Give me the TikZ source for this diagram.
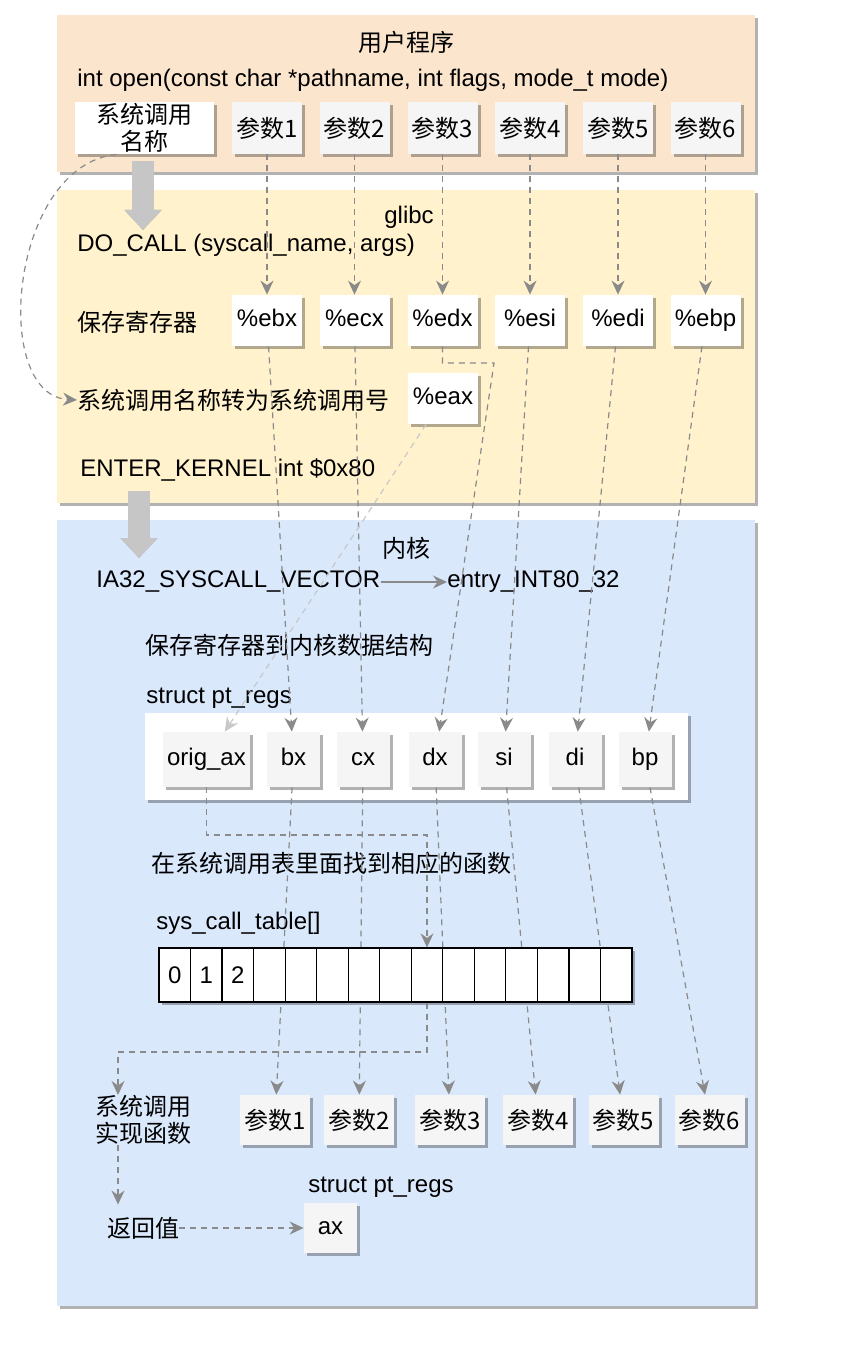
\documentclass[tikz,border=0pt]{standalone}
\usepackage{fontspec}
\setmainfont{Liberation Sans}
\newfontfamily\cjk{Noto Sans CJK SC}
\usetikzlibrary{arrows.meta,shadows,calc}

\definecolor{userbg}{HTML}{FCE5CD}
\definecolor{glibcbg}{HTML}{FFF2CC}
\definecolor{kernbg}{HTML}{DAE8FC}
\definecolor{boxgray}{HTML}{F5F5F5}
\definecolor{linegray}{HTML}{8A8A8A}
\definecolor{lightline}{HTML}{C8C8C8}
\definecolor{arrowgray}{HTML}{C6C6C6}

\tikzset{
  shade3/.style={drop shadow={shadow xshift=1.5pt, shadow yshift=-1.5pt, fill=black, opacity=0.3}},
  txt/.style={inner sep=0pt, anchor=west},
  namebox/.style={fill=white, minimum width=69.5pt, minimum height=26pt, inner sep=0pt, align=center, font=\cjk, shade3},
  parbox/.style={fill=boxgray, minimum width=35pt, minimum height=26pt, inner sep=0pt, font=\cjk, shade3},
  regbox/.style={fill=white, minimum width=35pt, minimum height=25.5pt, inner sep=0pt, text height=8.6pt, text depth=2.6pt, shade3},
  ptbox/.style={fill=boxgray, minimum width=26.5pt, minimum height=27.5pt, inner sep=0pt, text height=8.6pt, text depth=2.6pt, shade3},
  cell/.style={draw, fill=white, line width=0.6pt, minimum width=15.77pt, minimum height=27pt, inner sep=0pt},
  dashlink/.style={draw=linegray, line width=0.6pt, dash pattern=on 3pt off 2.5pt, -{Stealth[length=7pt, width=6.5pt]}},
  solidlink/.style={draw=linegray, line width=0.6pt, -{Stealth[length=7pt, width=6.5pt]}},
  bigarrow/.style={draw=arrowgray, line width=11pt, -{Triangle[width=18pt, length=10pt]}},
  bigshadow/.style={draw=black!38, line width=11pt, -{Triangle[width=18pt, length=10pt]}, xshift=1pt, yshift=-1pt}
}

\begin{document}
\fontsize{12pt}{13.5pt}\selectfont
\begin{tikzpicture}[x=0.5pt, y=-0.5pt]
    \useasboundingbox (0,0) rectangle (856,1352);

    % Panels
    \fill[userbg, shade3] (57,15) rectangle (755,172);
    \fill[glibcbg, shade3] (57,190) rectangle (755,503);
    \fill[kernbg, shade3] (57,520) rectangle (755,1306);

    % User program
    \node (user) at (406,42) {\cjk 用户程序};
    \node[txt] (proto) at (77,80) {int open(const char *pathname, int flags, mode\_t mode)};
    \node[namebox] (sysname) at (144.5,128) {系统调用\\名称};
    \node[parbox] (p1) at (267,128) {参数1};
    \node[parbox] (p2) at (354.5,128) {参数2};
    \node[parbox] (p3) at (442.5,128) {参数3};
    \node[parbox] (p4) at (530,128) {参数4};
    \node[parbox] (p5) at (618,128) {参数5};
    \node[parbox] (p6) at (705.5,128) {参数6};

    % glibc
    \node (glibc) at (409,217) {glibc};
    \node[txt] (docall) at (77,245) {DO\_CALL (syscall\_name, args)};
    \node[txt] (saveregs) at (77,322) {\cjk 保存寄存器};
    \node[regbox] (ebx) at (267,320.5) {\%ebx};
    \node[regbox] (ecx) at (354.5,320.5) {\%ecx};
    \node[regbox] (edx) at (442.5,320.5) {\%edx};
    \node[regbox] (esi) at (530,320.5) {\%esi};
    \node[regbox] (edi) at (618,320.5) {\%edi};
    \node[regbox] (ebp) at (705.5,320.5) {\%ebp};
    \node[txt] (conv) at (77,400) {\cjk 系统调用名称转为系统调用号};
    \node[regbox] (eax) at (443,398.5) {\%eax};
    \node[txt] (enter) at (80,470) {ENTER\_KERNEL int \$0x80};

    % Kernel
    \node (kernel) at (406,548) {\cjk 内核};
    \node[txt] (ia32) at (96,582) {IA32\_SYSCALL\_VECTOR};
    \node[txt] (entry) at (447,582) {entry\_INT80\_32};
    \node[txt] (savek) at (145,645) {\cjk 保存寄存器到内核数据结构};
    \node[txt] (ptname) at (146,698) {struct pt\_regs};
    \fill[white, shade3] (145,713) rectangle (688,800);
    \node[ptbox, minimum width=43.5pt] (ptax) at (206.5,759.5) {orig\_ax};
    \node[ptbox] (ptbx) at (293.5,759.5) {bx};
    \node[ptbox] (ptcx) at (363,759.5) {cx};
    \node[ptbox] (ptdx) at (435,759.5) {dx};
    \node[ptbox] (ptsi) at (504,759.5) {si};
    \node[ptbox] (ptdi) at (575,759.5) {di};
    \node[ptbox] (ptbp) at (645,759.5) {bp};
    \node[txt] (lookup) at (151,863) {\cjk 在系统调用表里面找到相应的函数};
    \node[txt] (tabname) at (156,923) {sys\_call\_table[]};
    \node[align=center, font=\cjk, inner sep=0pt] (impl) at (143,1120) {系统调用\\实现函数};
    \node[parbox, minimum height=25pt] (q1) at (275,1120) {参数1};
    \node[parbox, minimum height=25pt] (q2) at (359,1120) {参数2};
    \node[parbox, minimum height=25pt] (q3) at (450,1120) {参数3};
    \node[parbox, minimum height=25pt] (q4) at (538,1120) {参数4};
    \node[parbox, minimum height=25pt] (q5) at (623.5,1120) {参数5};
    \node[parbox, minimum height=25pt] (q6) at (709.5,1120) {参数6};
    \node (retname) at (381,1187) {struct pt\_regs};
    \node[font=\cjk, inner sep=0pt] (ret) at (143,1228) {返回值};
    \node[ptbox, minimum height=25pt] (ptret) at (330.5,1228) {ax};

    % Big arrows between layers
    \coordinate (callfrom) at (143,161);
    \coordinate (callto) at (143,230);
    \coordinate (trapfrom) at (139,491);
    \coordinate (trapto) at (139,558);
    \draw[bigshadow] (callfrom) -- (callto);
    \draw[bigarrow] (callfrom) -- (callto);
    \draw[bigshadow] (trapfrom) -- (trapto);
    \draw[bigarrow] (trapfrom) -- (trapto);

    % Arguments into registers
    \draw[dashlink] (p1) -- (ebx);
    \draw[dashlink] (p2) -- (ecx);
    \draw[dashlink] (p3) -- (edx);
    \draw[dashlink] (p4) -- (esi);
    \draw[dashlink] (p5) -- (edi);
    \draw[dashlink] (p6) -- (ebp);
    \draw[dashlink] ($(sysname.south west)!0.3!(sysname.south east)$) .. controls (10,165) and (-10,395) .. (conv.west);

    % Registers into pt_regs
    \coordinate (edxturn) at (494,363);
    \draw[dashlink] (ebx) -- (ptbx);
    \draw[dashlink] (ecx) -- (ptcx);
    \draw[dashlink] (edx.south) |- (edxturn) -- (ptdx);
    \draw[dashlink] (esi) -- (ptsi);
    \draw[dashlink] (edi) -- (ptdi);
    \draw[dashlink] (ebp) -- (ptbp);
    \draw[dashlink, draw=lightline] (eax) -- (ptax);
    \draw[solidlink] (ia32) -- (entry);

    % pt_regs into the call
    \draw[dashlink] (ptbx) -- (q1);
    \draw[dashlink] (ptcx) -- (q2);
    \draw[dashlink] (ptdx) -- (q3);
    \draw[dashlink] (ptsi) -- (q4);
    \draw[dashlink] (ptdi) -- (q5);
    \draw[dashlink] (ptbp) -- (q6);

    % sys_call_table
    \fill[white, shade3] (159,948) rectangle (632,1002);
    \node[cell] (t0) at (174.8,975) {0};
    \node[cell] (t1) at (206.3,975) {1};
    \node[cell] (t2) at (237.8,975) {2};
    \node[cell] (t3) at (269.4,975) {};
    \node[cell] (t4) at (300.9,975) {};
    \node[cell] (t5) at (332.4,975) {};
    \node[cell] (t6) at (364.0,975) {};
    \node[cell] (t7) at (395.5,975) {};
    \node[cell] (t8) at (427.0,975) {};
    \node[cell] (t9) at (458.6,975) {};
    \node[cell] (t10) at (490.1,975) {};
    \node[cell] (t11) at (521.6,975) {};
    \node[cell] (t12) at (553.2,975) {};
    \node[cell] (t13) at (584.7,975) {};
    \node[cell] (t14) at (616.2,975) {};

    % Lookup and return
    \coordinate (axturn) at (427,835);
    \coordinate (implturn) at (118,1052);
    \draw[dashlink] (ptax.south) |- (axturn) -- (t8.north);
    \draw[dashlink] (t8.south) |- (implturn) -- (implturn |- impl.north);
    \draw[dashlink] (implturn |- impl.south) -- ($(implturn |- ret.north)+(0,-12)$);
    \draw[dashlink] (ret) -- (ptret);
\end{tikzpicture}
\end{document}
